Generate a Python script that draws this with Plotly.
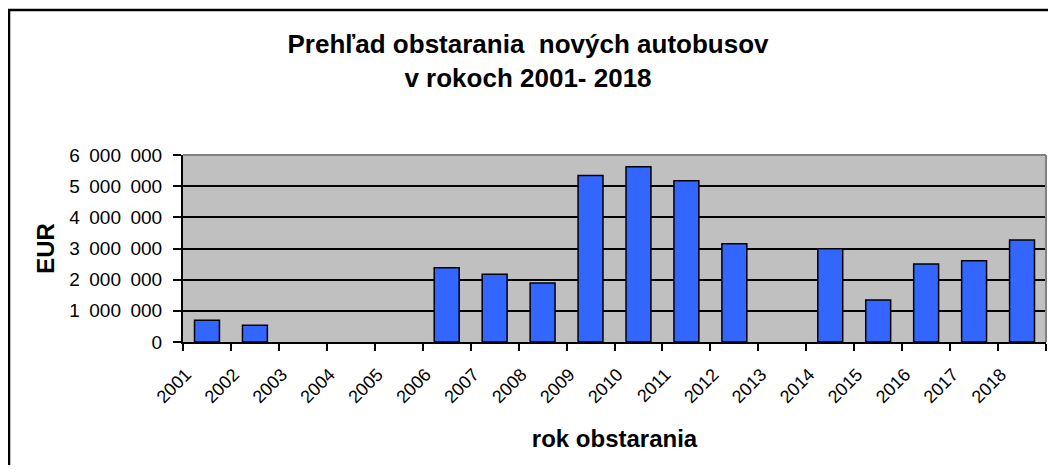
# Bar chart: new buses procurement per year (EUR), Excel-style look

import plotly.graph_objects as go

years = ["2001", "2002", "2003", "2004", "2005", "2006", "2007", "2008", "2009",
         "2010", "2011", "2012", "2013", "2014", "2015", "2016", "2017", "2018"]
# no bar drawn for 2003-2005 and 2013
eur = [700000, 540000, None, None, None, 2380000, 2170000, 1890000, 5340000,
       5620000, 5170000, 3150000, None, 2990000, 1350000, 2500000, 2610000, 3270000]

y_ticks = [0, 1000000, 2000000, 3000000, 4000000, 5000000, 6000000]
# Excel-style wide thousands separator
y_ticktext = ["0", "1\u2002000\u2002000", "2\u2002000\u2002000", "3\u2002000\u2002000",
              "4\u2002000\u2002000", "5\u2002000\u2002000", "6\u2002000\u2002000"]

title = "Prehľad obstarania  nových autobusov<br>v rokoch 2001- 2018"
x_title = "rok obstarania"
y_title = "EUR"

# the page body has an 8px margin, so the figure sits at (8, 8) in the window;
# keep it small enough that the page does not overflow
W, H = 1040, 457
L, R, T, B = 175, 2, 147, 123
font = "Liberation Sans, Arial, sans-serif"

fig = go.Figure(go.Bar(
    x=years, y=eur,
    marker=dict(color="#3366FF", line=dict(color="black", width=1.5)),
))

# figure pixel -> paper helpers for the outer chart frame
pw, ph = W - L - R, H - T - B
def px(v):
    return (v - L) / pw
def py(v):
    return (H - B - v) / ph

fig.update_layout(
    width=W, height=H,
    margin=dict(l=L, r=R, t=T, b=B, autoexpand=False),
    paper_bgcolor="white",
    plot_bgcolor="#C0C0C0",
    bargap=0.48,
    showlegend=False,
    font=dict(family=font, color="black", size=18),
    title=dict(text="<b>" + title + "</b>", x=520 / W, xanchor="center",
               y=1 - 45 / H, yanchor="top", font=dict(size=26)),
    shapes=[
        # outer frame of the chart (right/bottom fall off the picture)
        dict(type="rect", xref="paper", yref="paper", x0=px(1), x1=px(1070),
             y0=py(490), y1=py(2), line=dict(color="black", width=2.5)),
        # plot area border top / right in gray
        dict(type="line", xref="paper", yref="paper", x0=0, x1=1, y0=1, y1=1,
             line=dict(color="#808080", width=2)),
        dict(type="line", xref="paper", yref="paper", x0=1, x1=1, y0=0, y1=1,
             line=dict(color="#808080", width=2)),
    ],
)

fig.update_xaxes(
    type="category",
    automargin=False,
    tickson="boundaries",
    ticks="outside", ticklen=7, tickwidth=1.5, tickcolor="black",
    tickangle=-45,
    ticklabelshift=-21,
    ticklabelstandoff=13,
    tickfont=dict(size=18),
    showline=True, linecolor="black", linewidth=2,
    showgrid=False,
    title=dict(text="<b>" + x_title + "</b>", font=dict(size=24), standoff=24),
)

fig.update_yaxes(
    automargin=False,
    range=[0, 6000000],
    tickvals=y_ticks, ticktext=y_ticktext,
    ticks="outside", ticklen=8, tickwidth=1.5, tickcolor="black",
    ticklabelstandoff=7,
    tickfont=dict(size=19),
    showline=True, linecolor="black", linewidth=2,
    showgrid=True, gridcolor="black", gridwidth=1.5,
    zeroline=False,
    title=dict(text="<b>" + y_title + "</b>", font=dict(size=24), standoff=8),
)

fig.write_html("out.html")
